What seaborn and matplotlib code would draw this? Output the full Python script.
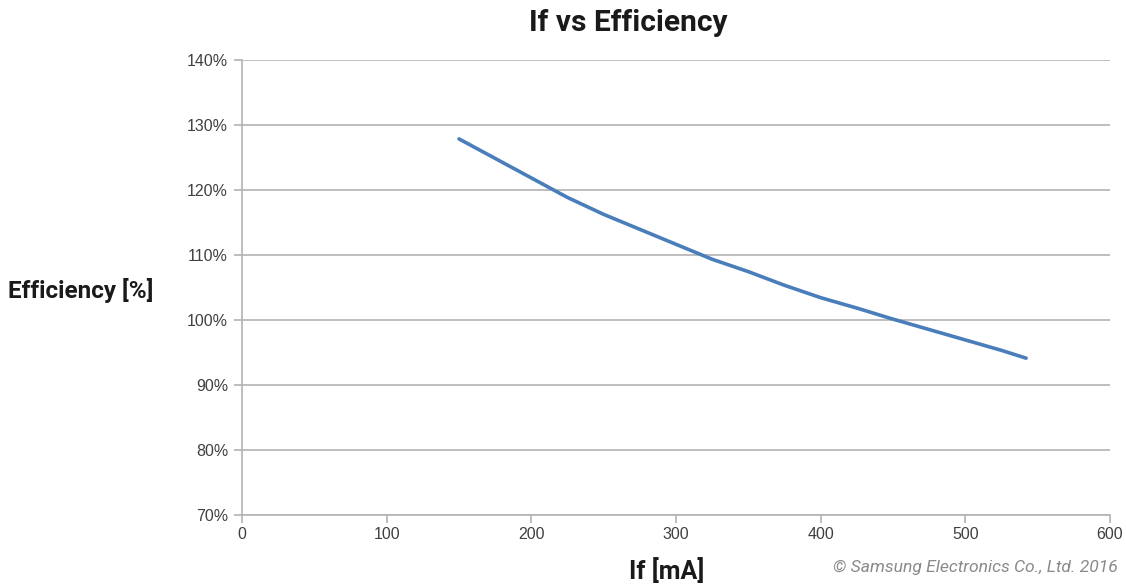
import matplotlib
matplotlib.use("Agg")
import matplotlib.pyplot as plt
import matplotlib.ticker as mticker
import seaborn as sns
import pandas as pd

# ---------------- DATA ----------------
if_ma = [150, 175, 200, 225, 250, 275, 300, 325, 350, 375, 400, 425, 450, 475, 500, 525, 542]
efficiency = [127.8, 124.8, 121.8, 118.8, 116.2, 113.9, 111.6, 109.3, 107.4, 105.3,
              103.4, 101.8, 100.1, 98.5, 96.9, 95.3, 94.1]
x_ticks = [0, 100, 200, 300, 400, 500, 600]
y_ticks = [70, 80, 90, 100, 110, 120, 130, 140]

df = pd.DataFrame({"if_ma": if_ma, "eff": efficiency})

# ---------------- STYLE ----------------
sns.set_theme(style="white")
plt.rcParams["font.family"] = ["Roboto", "DejaVu Sans"]
GRID = "#b3b3b3"

fig = plt.figure(figsize=(11.26, 5.87), dpi=100)
ax = fig.add_axes([0.2149, 0.1227, 0.7709, 0.7759])

sns.lineplot(data=df, x="if_ma", y="eff", ax=ax, color="#4a7ebb", linewidth=2.6)

ax.set_xlim(0, 600)
ax.set_ylim(70, 140)
ax.set_xticks(x_ticks)
ax.set_yticks(y_ticks)
ax.yaxis.set_major_formatter(mticker.FuncFormatter(lambda v, p: f"{v:.0f}%"))
ax.grid(axis="y", color=GRID, linewidth=1.2)
ax.set_axisbelow(True)

for s in ["top", "right"]:
    ax.spines[s].set_visible(False)
for s in ["left", "bottom"]:
    ax.spines[s].set_color(GRID)
    ax.spines[s].set_linewidth(1.2)

ax.tick_params(axis="both", which="major", length=6, width=1.2, color=GRID,
               labelsize=11.5, labelcolor="#404040", direction="out",
               left=True, bottom=True)
ax.tick_params(axis="y", pad=4)
ax.tick_params(axis="x", pad=3)
for lbl in ax.get_xticklabels() + ax.get_yticklabels():
    lbl.set_family(["Liberation Sans", "DejaVu Sans"])

ax.set_xlabel("")
ax.set_ylabel("")

fig.text(0.558, 0.960, "If vs Efficiency", ha="center", va="center",
         fontsize=21.5, fontweight="bold", color="#1a1a1a")
fig.text(0.007, 0.505, "Efficiency [%]", ha="left", va="center",
         fontsize=17.5, fontweight="bold", color="#1a1a1a")
fig.text(0.592, 0.028, "If [mA]", ha="center", va="center",
         fontsize=18, fontweight="bold", color="#1a1a1a")
fig.text(0.993, 0.034, "© Samsung Electronics Co., Ltd. 2016", ha="right", va="center",
         fontsize=12.6, style="italic", color="#8a8a8a")

fig.savefig("out.png", dpi=100)
